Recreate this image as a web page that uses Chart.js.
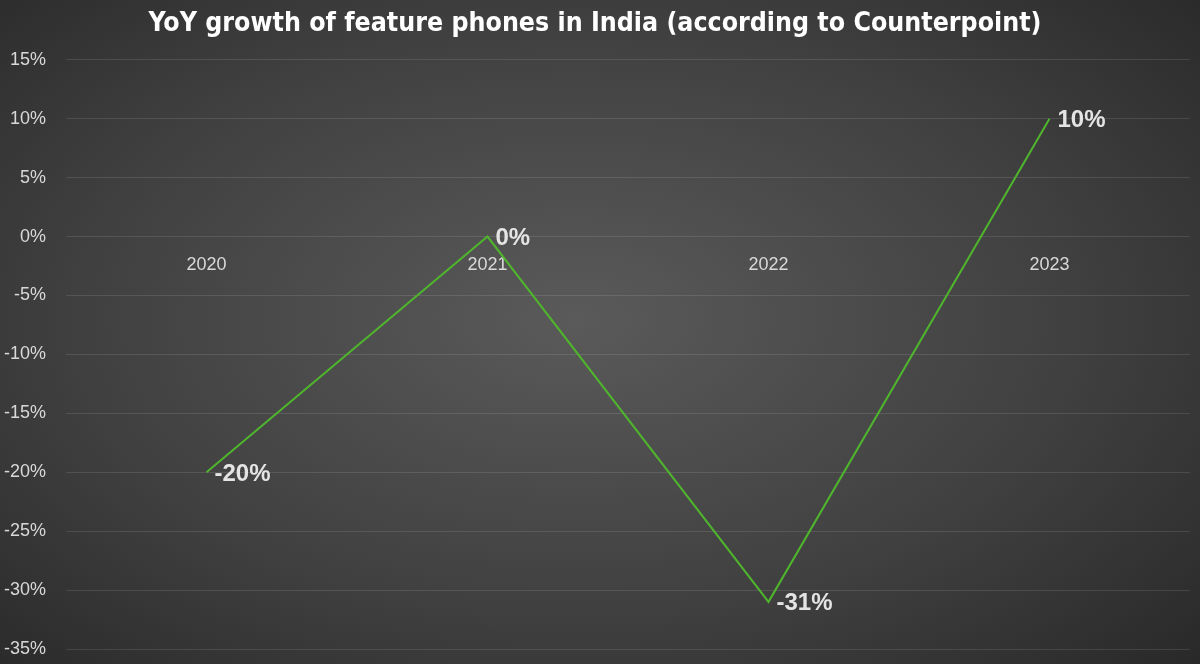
<!DOCTYPE html>
<html>
<head>
<meta charset="utf-8">
<script src="https://cdn.jsdelivr.net/npm/chart.js@4/dist/chart.umd.min.js"></script>
<style>
html,body{margin:0;padding:0;width:1200px;height:664px;overflow:hidden;}
body{background:radial-gradient(ellipse 75% 80% at 48% 48%, #5a5a5a 0%, #404040 55%, #262626 100%);}
#wrap{width:1200px;height:664px;position:relative;}
</style>
</head>
<body>
<div id="wrap"><canvas id="c" width="1200" height="664"></canvas></div>
<script>
const categories = ['2020', '2021', '2022', '2023'];
const growthValues = [-20, 0, -31, 10];
const yMin = -35, yMax = 15, yStep = 5;
const titleText = 'YoY growth of feature phones in India (according to Counterpoint)';

const labelPlugin = {
  id: 'pointLabels',
  afterDatasetsDraw(chart) {
    const ctx = chart.ctx;
    const meta = chart.getDatasetMeta(0);
    ctx.save();
    ctx.font = 'bold 24px "Liberation Sans", Arial, sans-serif';
    ctx.fillStyle = '#e4e4e4';
    ctx.textAlign = 'left';
    ctx.textBaseline = 'middle';
    meta.data.forEach((pt, i) => {
      ctx.fillText(growthValues[i] + '%', pt.x + 8, pt.y + 2);
    });
    ctx.restore();
  }
};

new Chart(document.getElementById('c'), {
  type: 'line',
  data: {
    labels: categories,
    datasets: [{
      data: growthValues,
      borderColor: '#4fb52d',
      borderWidth: 2,
      pointRadius: 0,
      tension: 0,
      fill: false
    }]
  },
  options: {
    responsive: false,
    animation: false,
    layout: { padding: { left: 0, right: 10, bottom: 15, top: 0 } },
    plugins: {
      legend: { display: false },
      tooltip: { enabled: false },
      title: {
        display: true,
        text: titleText,
        color: '#ffffff',
        font: { family: '"DejaVu Sans Condensed", "DejaVu Sans", sans-serif', weight: 'bold', size: 26.5, lineHeight: 1.2 },
        padding: { top: 8, bottom: 20 }
      }
    },
    scales: {
      x: {
        type: 'category',
        offset: true,
        position: { y: 0 },
        afterFit: s => { s.height = 0; },
        grid: { display: false, drawTicks: false },
        border: { display: false },
        ticks: {
          color: '#d9d9d9',
          padding: 18,
          font: { family: '"Liberation Sans", Arial, sans-serif', size: 18 }
        }
      },
      y: {
        min: yMin,
        max: yMax,
        afterFit: s => { s.width = 66; s.paddingTop = 0; s.paddingBottom = 0; },
        grid: { color: 'rgba(255,255,255,0.11)', drawTicks: false, lineWidth: 1 },
        border: { display: false },
        ticks: {
          stepSize: yStep,
          color: '#d9d9d9',
          padding: 20,
          font: { family: '"Liberation Sans", Arial, sans-serif', size: 18 },
          callback: v => v + '%'
        }
      }
    }
  },
  plugins: [labelPlugin]
});
</script>
</body>
</html>
